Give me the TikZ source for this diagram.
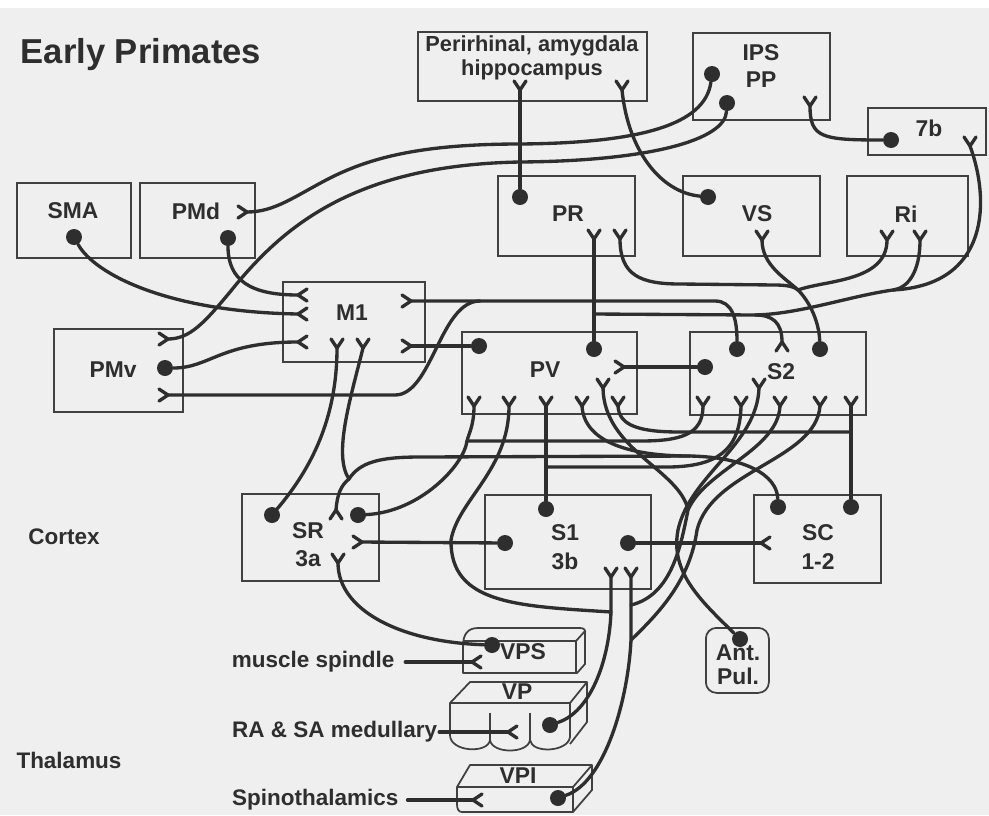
\documentclass[tikz,border=0pt]{standalone}
\usepackage{fontspec}
\setmainfont{Liberation Sans}
\usetikzlibrary{calc}
\definecolor{paper}{HTML}{EFEFEF}
\definecolor{ink}{HTML}{2E2E2E}
\definecolor{rim}{HTML}{404040}
\tikzset{
  area/.style={draw=rim, line width=1pt, inner sep=0pt, anchor=north west},
  thal/.style={draw=rim, line width=1pt, line join=round},
  wire/.style={draw=ink, line width=1.9pt, line cap=round},
  soma/.style={circle, fill=ink, inner sep=0pt, minimum size=0.32cm},
  txt/.style={font=\bfseries\fontsize{13}{13.6}\selectfont, text=ink, inner sep=1pt, align=center},
  lbl/.style={font=\bfseries\fontsize{12.8}{13.6}\selectfont, text=ink, inner sep=1pt},
  ttl/.style={font=\bfseries\fontsize{19.7}{22}\selectfont, text=ink, inner sep=0pt},
  fork/.pic={\draw[wire, line join=round] (-9,-6) -- (0,0) -- (-9,6);},
}

\begin{document}
\begin{tikzpicture}[x=0.02cm, y=-0.02cm]
\useasboundingbox (0,0) rectangle (989,815);
\fill[paper] (0,8) rectangle (989,815);

\node[ttl] (title) at (141,55) {Early Primates};
\node[lbl] (cortex) at (64,537) {Cortex};
\node[lbl] (thalamus) at (69,760) {Thalamus};

% ---------------- cortical areas ----------------
\node[area, minimum width=2.28cm, minimum height=1.5cm] (smabox) at (16,182) {};
\node[txt] (sma) at (73,211) {SMA};
\node[area, minimum width=2.3cm, minimum height=1.5cm] (pmdbox) at (139,182) {};
\node[txt] (pmd) at (196,211) {PMd};
\node[area, minimum width=2.58cm, minimum height=1.66cm] (pmvbox) at (53,328) {};
\node[txt] (pmv) at (113,370) {PMv};
\node[area, minimum width=2.84cm, minimum height=1.6cm] (m1box) at (282,281) {};
\node[txt] (m1) at (352,313) {M1};
\node[area, minimum width=4.58cm, minimum height=1.38cm] (peribox) at (417,31) {};
\node[txt, font=\bfseries\fontsize{12.4}{13.6}\selectfont] (peri) at (532,58) {Perirhinal, amygdala\\hippocampus};
\node[area, minimum width=2.74cm, minimum height=1.74cm] (ipsbox) at (692,32) {};
\node[txt] (ips) at (761,66) {IPS\\[1.7pt]PP};
\node[area, minimum width=2.36cm, minimum height=0.94cm] (b7box) at (867,107) {};
\node[txt] (b7) at (929,128) {7b};
\node[area, minimum width=2.74cm, minimum height=1.6cm] (prbox) at (497,175) {};
\node[txt] (pr) at (568,214) {PR};
\node[area, minimum width=2.74cm, minimum height=1.6cm] (vsbox) at (682,175) {};
\node[txt] (vs) at (757,214) {VS};
\node[area, minimum width=2.42cm, minimum height=1.6cm] (ribox) at (846,175) {};
\node[txt] (ri) at (906,214) {Ri};
\node[area, minimum width=3.5cm, minimum height=1.64cm] (pvbox) at (461,331) {};
\node[txt] (pv) at (545,370) {PV};
\node[area, minimum width=3.52cm, minimum height=1.66cm] (s2box) at (689,331) {};
\node[txt] (s2) at (781,372) {S2};
\node[area, minimum width=2.74cm, minimum height=1.74cm] (srbox) at (241,493) {};
\node[txt] (sr) at (308,545) {SR\\[2.4pt]3a};
\node[area, minimum width=3.32cm, minimum height=1.88cm] (s1box) at (484,494) {};
\node[txt] (s1) at (565,547) {S1\\[2.8pt]3b};
\node[area, minimum width=2.54cm, minimum height=1.76cm] (scbox) at (753,494) {};
\node[txt] (sc) at (818,547) {SC\\[2.8pt]1-2};
\node[area, rounded corners=6pt, minimum width=1.26cm, minimum height=1.3cm] (apbox) at (705,627) {};
\node[txt] (ap) at (738,665) {Ant.\\Pul.};

% ---------------- thalamic nuclei ----------------
\draw[thal] (463,673) -- (463,646) .. controls (463,634) and (468,628) .. (478,628) -- (580,628)
  .. controls (584,628) and (586,630) .. (585,634) -- (585,664) -- (577,673) -- cycle;
\draw[thal] (463,641) -- (576,641) -- (585,631);
\draw[thal] (576,641) -- (576,673);
\node[txt] (vps) at (523,652) {VPS};

\draw[thal] (450,735) -- (450,703) -- (470,682) -- (587,682) -- (587,722) -- (570,744);
\draw[thal] (450,703) -- (570,703) -- (587,682);
\draw[thal] (570,703) -- (570,737);
\draw[thal] (450,735) .. controls (450,752) and (488,754) .. (490,740) .. controls (492,754) and (528,754) .. (530,740)
  .. controls (532,754) and (568,752) .. (570,737);
\draw[thal] (490,713) -- (490,740) (530,713) -- (530,740);
\node[txt] (vp) at (517,692) {VP};

\draw[thal] (462,812) .. controls (458,812) and (457,808) .. (457,804) -- (457,787) -- (470,765) -- (592,765)
  -- (592,790) -- (573,812) -- cycle;
\draw[thal] (457,787) -- (573,787) -- (592,765);
\draw[thal] (573,787) -- (573,812);
\node[txt] (vpi) at (518,776) {VPI};

\node[lbl, anchor=west, inner xsep=6pt] (msp) at (221,662) {muscle spindle};
\node[lbl, anchor=west] (rasa) at (230,732) {RA \& SA medullary};
\node[lbl, anchor=west, inner xsep=5pt] (spino) at (223,800) {Spinothalamics};

% ---------------- cell bodies ----------------
\node[soma] (sma-o) at (74,237) {};
\node[soma] (pmd-o) at (228,238) {};
\node[soma] (pmv-o) at (165,368) {};
\node[soma] (ips-o1) at (712,74) {};
\node[soma] (ips-o2) at (727,103) {};
\node[soma] (b7-o) at (891,140) {};
\node[soma] (pr-o) at (520,197) {};
\node[soma] (vs-o) at (708,197) {};
\node[soma] (pv-o1) at (479,346) {};
\node[soma] (pv-o2) at (594,349) {};
\node[soma] (s2-o1) at (705,367) {};
\node[soma] (s2-o2) at (737,349) {};
\node[soma] (s2-o3) at (820,349) {};
\node[soma] (sr-o1) at (272,515) {};
\node[soma] (sr-o2) at (358,515) {};
\node[soma] (s1-o1) at (546,509) {};
\node[soma] (s1-o2) at (505,543) {};
\node[soma] (s1-o3) at (628,543) {};
\node[soma] (sc-o1) at (778,507) {};
\node[soma] (sc-o2) at (851,507) {};
\node[soma] (vps-o) at (492,645) {};
\node[soma] (vp-o) at (550,725) {};
\node[soma] (vpi-o) at (558,798) {};
\node[soma] (ap-o) at (740,639) {};

% ---------------- terminals ----------------
\coordinate (peri-t1) at (520,90);
\coordinate (peri-t2) at (622,90);
\coordinate (ips-t) at (810,106);
\coordinate (b7-t) at (970,146);
\coordinate (pr-t1) at (594,239);
\coordinate (pr-t2) at (620,239);
\coordinate (vs-t) at (762,240);
\coordinate (ri-t1) at (887,240);
\coordinate (ri-t2) at (920,240);
\coordinate (pmd-t) at (247,212);
\coordinate (m1-t1) at (298,295);
\coordinate (m1-t2) at (298,314);
\coordinate (m1-t3) at (298,342);
\coordinate (m1-t4) at (411,301);
\coordinate (m1-t5) at (411,346);
\coordinate (m1-t6) at (337,348);
\coordinate (m1-t7) at (363,348);
\coordinate (pmv-t1) at (168,339);
\coordinate (pmv-t2) at (168,395);
\coordinate (pv-t1) at (624,367);
\coordinate (pv-t2) at (603,388);
\coordinate (s2-t1) at (782,342);
\coordinate (s2-t2) at (759,388);
\coordinate (sr-t1) at (336,510);
\coordinate (sr-t2) at (362,542);
\coordinate (sr-t3) at (338,563);
\coordinate (s1-t1) at (611,577);
\coordinate (s1-t2) at (631,577);
\coordinate (sc-t) at (761,543);
\coordinate (vps-t) at (472,662);
\coordinate (vp-t) at (508,732);
\coordinate (vpi-t) at (473,800);
\foreach \x [count=\i] in {474,509,546,582,618} {
  \coordinate (pv-b\i) at (\x,406);
}
\foreach \x [count=\i] in {703,741,780,820,851} {
  \coordinate (s2-b\i) at (\x,406);
}
% where lines meet
\coordinate (jPR) at (594,314);
\coordinate (jM) at (480,301);
\coordinate (jB) at (893,290);
\coordinate (jC) at (755,315);
\coordinate (jS) at (798,290);
\coordinate (jR) at (349,479);
\coordinate (jK) at (690,456);
\coordinate (jP1) at (467,441);
\coordinate (jV) at (851,432);
\coordinate (jS1) at (546,467);
\coordinate (jT1) at (611,612);
\coordinate (jT2) at (631,605);
\coordinate (jT3) at (631,640);
\coordinate (jW) at (688,510);

% ---------------- upper connections ----------------
\draw[wire] (peri-t1) -- (pr-o);
\draw[wire] (peri-t2) .. controls (628,150) and (660,192) .. (vs-o);
\draw[wire] (ips-o1) .. controls (705,125) and (640,143) .. (520,144) .. controls (420,144) and (370,158) .. (330,178)
  .. controls (295,196) and (275,212) .. (pmd-t);
\draw[wire] (ips-o2) .. controls (725,140) and (650,161) .. (520,162) .. controls (350,165) and (280,230) .. (230,292)
  .. controls (205,322) and (190,339) .. (pmv-t1);
\draw[wire] (ips-t) .. controls (810,138) and (822,140) .. (b7-o);
\draw[wire] (b7-t) .. controls (990,200) and (990,285) .. (jB) .. controls (850,296) and (800,314) .. (jC);
\draw[wire] (ri-t2) .. controls (920,272) and (908,288) .. (jB);
\draw[wire] (pr-t1) -- (pv-o2);
\draw[wire] (jPR) -- (jC) .. controls (772,315) and (782,322) .. (s2-t1);
\draw[wire] (pr-t2) .. controls (620,275) and (640,284) .. (680,284) -- (775,285) .. controls (788,285) and (795,287) .. (jS);
\draw[wire] (vs-t) .. controls (762,265) and (785,278) .. (jS) .. controls (810,302) and (819,322) .. (s2-o3);
\draw[wire] (ri-t1) .. controls (887,282) and (825,280) .. (jS);

% ---------------- motor areas ----------------
\draw[wire] (sma-o) .. controls (95,275) and (170,312) .. (m1-t2);
\draw[wire] (pmd-o) .. controls (228,280) and (250,295) .. (m1-t1);
\draw[wire] (pmv-o) .. controls (210,368) and (220,342) .. (m1-t3);
\draw[wire] (m1-t4) -- (jM) -- (715,301) .. controls (732,301) and (737,318) .. (s2-o2);
\draw[wire] (pmv-t2) -- (395,395) .. controls (432,395) and (440,301) .. (jM);
\draw[wire] (m1-t5) -- (pv-o1);
\draw[wire] (pv-t1) -- (s2-o1);
\draw[wire] (m1-t6) .. controls (337,420) and (310,470) .. (sr-o1);
\draw[wire] (m1-t7) .. controls (350,400) and (333,455) .. (jR);

% ---------------- PV and S2 to the anterior parietal fields ----------------
\draw[wire] (sr-t1) .. controls (337,495) and (341,485) .. (jR) .. controls (360,462) and (380,457) .. (420,457) -- (jK)
  .. controls (745,457) and (777,475) .. (sc-o1);
\draw[wire] (pv-b4) .. controls (584,440) and (625,456) .. (jK);
\draw[wire] (pv-b1) .. controls (474,425) and (469,433) .. (jP1) .. controls (464,465) and (420,512) .. (sr-o2);
\draw[wire] (s2-b1) .. controls (703,435) and (680,441) .. (640,441) -- (jP1);
\draw[wire] (pv-b5) .. controls (619,426) and (640,432) .. (680,432) -- (jV);
\draw[wire] (s2-b5) -- (sc-o2);
\draw[wire] (pv-b3) -- (s1-o1);
\draw[wire] (s2-b2) .. controls (740,452) and (715,466) .. (670,467) -- (jS1);
\draw[wire] (sr-t2) -- (s1-o2);
\draw[wire] (s1-o3) -- (sc-t);

% ---------------- thalamic connections ----------------
\draw[wire] (pv-b2) .. controls (509,470) and (458,500) .. (451,540) .. controls (450,605) and (520,606) .. (jT1);
\draw[wire] (s1-t1) -- (jT1) .. controls (609,662) and (590,712) .. (vp-o);
\draw[wire] (s1-t2) -- (jT3) .. controls (628,700) and (605,782) .. (vpi-o);
\draw[wire] (s2-b3) .. controls (778,450) and (705,470) .. (jW) .. controls (681,545) and (672,595) .. (jT2);
\draw[wire] (pv-t2) .. controls (604,450) and (680,470) .. (jW);
\draw[wire] (s2-b4) .. controls (816,460) and (712,470) .. (697,530) .. controls (690,580) and (660,612) .. (jT3);
\draw[wire] (s2-t2) .. controls (757,445) and (690,475) .. (678,530) .. controls (670,572) and (700,600) .. (ap-o);
\draw[wire] (sr-t3) .. controls (338,610) and (400,642) .. (vps-o);
\draw[wire] (msp.east) -- (vps-t);
\draw[wire] (rasa.east) -- (vp-t);
\draw[wire] (spino.east) -- (vpi-t);

% ---------------- terminal forks ----------------
\foreach \t in {peri-t1,peri-t2,ips-t,b7-t,pr-t1,pr-t2,vs-t,ri-t1,ri-t2,m1-t6,m1-t7,pv-t2,s2-t2,sr-t3,s1-t1,s1-t2,
  pv-b1,pv-b2,pv-b3,pv-b4,pv-b5,s2-b1,s2-b2,s2-b3,s2-b4,s2-b5} {
  \pic[rotate=-90] at (\t) {fork};
}
\foreach \t in {pmd-t,m1-t4,m1-t5,pmv-t1,pmv-t2,pv-t1,sr-t2} {
  \pic at (\t) {fork};
}
\foreach \t in {m1-t1,m1-t2,m1-t3,sc-t,vps-t,vp-t,vpi-t} {
  \pic[rotate=180] at (\t) {fork};
}
\foreach \t in {s2-t1,sr-t1} {
  \pic[rotate=90] at (\t) {fork};
}
\end{tikzpicture}
\end{document}
